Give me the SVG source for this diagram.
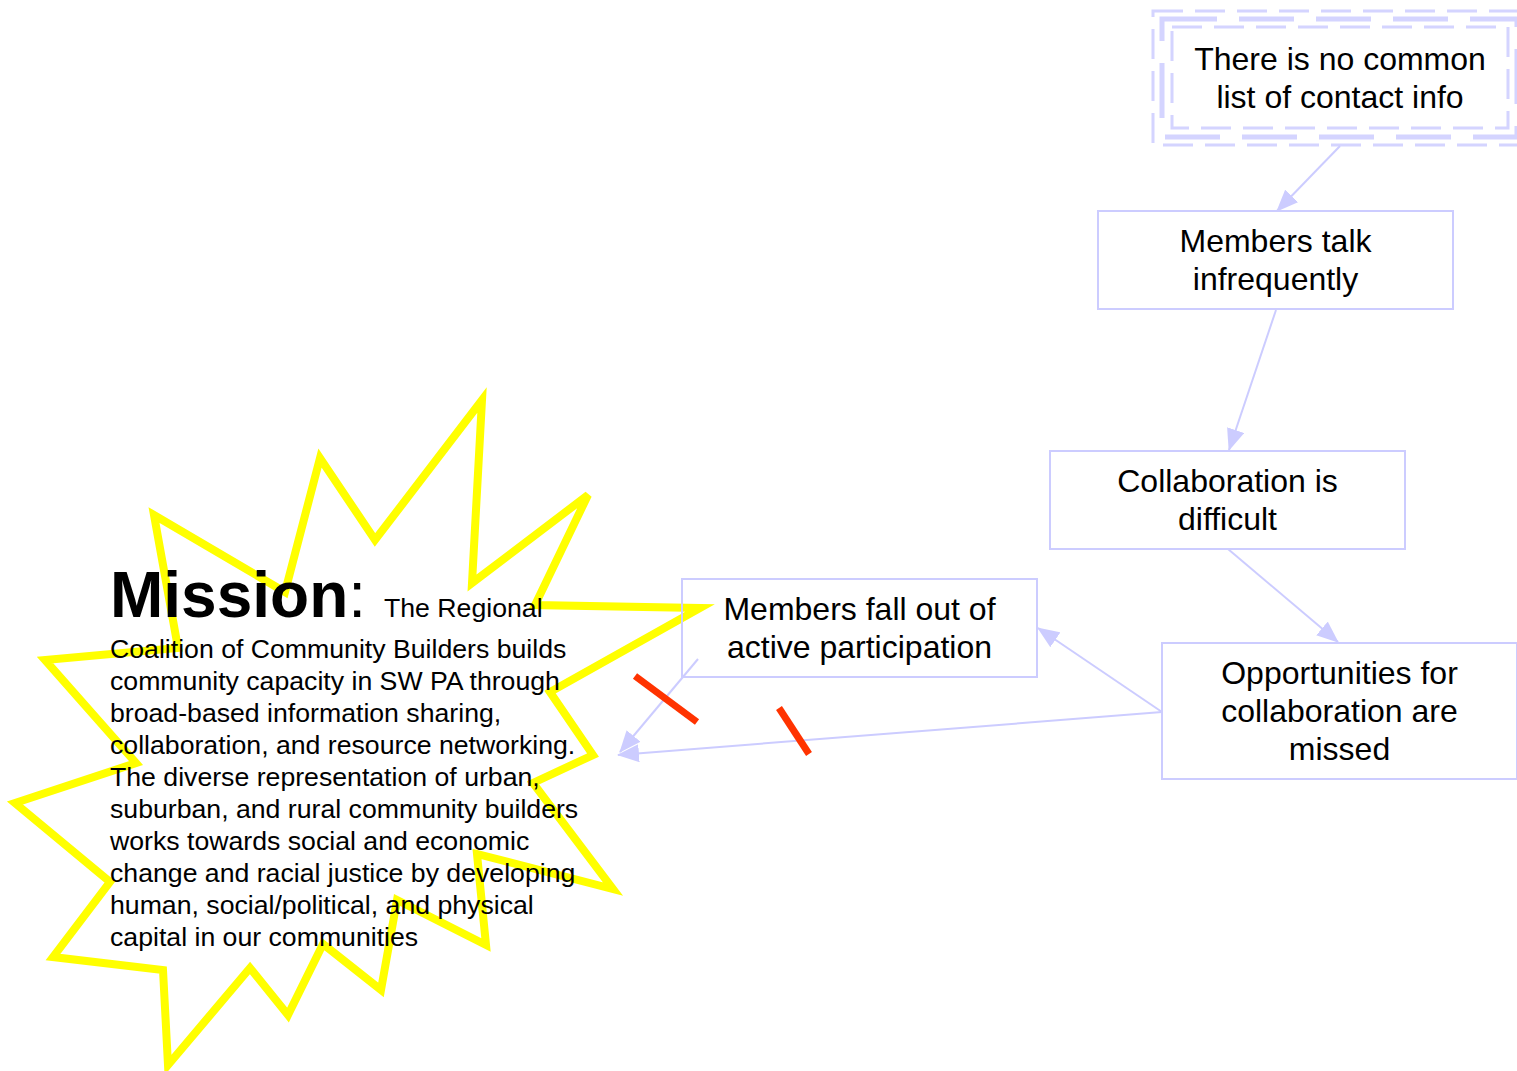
<svg xmlns="http://www.w3.org/2000/svg" width="1517" height="1071" viewBox="0 0 1517 1071">
  <style>
    .box { fill: none; stroke: #CCCCFF; stroke-width: 2; }
    .lbl { font-family: "Liberation Sans", Arial, sans-serif; font-size: 32px; fill: #000; text-anchor: middle; }
    .conn { stroke: #CCCCFF; stroke-width: 2; fill: none; marker-end: url(#head); }
    .body { font-family: "Liberation Sans", Arial, sans-serif; font-size: 26.67px; fill: #000; }
    .cut { stroke: #FF3300; stroke-width: 7; }
  </style>
  <defs>
    <marker id="head" markerUnits="userSpaceOnUse" markerWidth="22" markerHeight="18" refX="21" refY="9" orient="auto">
      <path d="M0,0 L22,9 L0,18 z" fill="#CCCCFF"/>
    </marker>
  </defs>

  <rect width="1517" height="1071" fill="#fff"/>

  <!-- mission burst -->
  <g id="mission">
    <polygon fill="none" stroke="#FFFF00" stroke-width="8" stroke-linejoin="miter"
      points="482,400 472,583 588,495 535,605 700,608 550,692 593,755 533,783 613,889 477,854 486,945 397,900 381,990 323,944 288,1015 250,968 168,1065 163,970 53,957 110,882 15,803 136,763 45,660 178,648 154,515 285,592 320,458 375,540"/>
    <text x="110" y="617" font-family="Liberation Sans, Arial, sans-serif" fill="#000"><tspan font-size="64" font-weight="bold">Mission</tspan><tspan font-size="64">:</tspan></text>
    <text class="body" x="384" y="617">The Regional</text>
    <text class="body">
      <tspan x="110" y="658">Coalition of Community Builders builds</tspan>
      <tspan x="110" y="690">community capacity in SW PA through</tspan>
      <tspan x="110" y="722">broad-based information sharing,</tspan>
      <tspan x="110" y="754">collaboration, and resource networking.</tspan>
      <tspan x="110" y="786">The diverse representation of urban,</tspan>
      <tspan x="110" y="818">suburban, and rural community builders</tspan>
      <tspan x="110" y="850">works towards social and economic</tspan>
      <tspan x="110" y="882">change and racial justice by developing</tspan>
      <tspan x="110" y="914">human, social/political, and physical</tspan>
      <tspan x="110" y="946">capital in our communities</tspan>
    </text>
  </g>

  <!-- root cause with triple dashed border -->
  <g id="no-contact-list">
    <rect x="1153" y="11" width="373" height="134" fill="none" stroke="#D4D4FF" stroke-width="3" stroke-dasharray="30 12"/>
    <rect x="1162" y="19" width="355" height="118" fill="none" stroke="#D4D4FF" stroke-width="5" stroke-dasharray="55 22"/>
    <rect x="1172" y="27" width="336" height="101" fill="none" stroke="#D4D4FF" stroke-width="3" stroke-dasharray="30 12"/>
    <text class="lbl"><tspan x="1340" y="70">There is no common</tspan><tspan x="1340" y="108">list of contact info</tspan></text>
  </g>

  <g id="talk-infrequently">
    <rect class="box" x="1098" y="211" width="355" height="98"/>
    <text class="lbl"><tspan x="1275.5" y="252">Members talk</tspan><tspan x="1275.5" y="290">infrequently</tspan></text>
  </g>

  <g id="collaboration-difficult">
    <rect class="box" x="1050" y="451" width="355" height="98"/>
    <text class="lbl"><tspan x="1227.5" y="492">Collaboration is</tspan><tspan x="1227.5" y="530">difficult</tspan></text>
  </g>

  <g id="opportunities-missed">
    <rect class="box" x="1162" y="643" width="355" height="136"/>
    <text class="lbl"><tspan x="1339.5" y="684">Opportunities for</tspan><tspan x="1339.5" y="722">collaboration are</tspan><tspan x="1339.5" y="760">missed</tspan></text>
  </g>

  <g id="fall-out">
    <rect class="box" x="682" y="579" width="355" height="98"/>
    <text class="lbl"><tspan x="859.5" y="620">Members fall out of</tspan><tspan x="859.5" y="658">active participation</tspan></text>
  </g>

  <g id="connectors">
    <line class="conn" x1="1340" y1="146" x2="1277" y2="211"/>
    <line class="conn" x1="1276" y1="310" x2="1229" y2="450"/>
    <line class="conn" x1="1228" y1="549" x2="1338" y2="642"/>
    <line class="conn" x1="1162" y1="712" x2="1038" y2="628"/>
    <line class="conn" x1="1162" y1="712" x2="618" y2="755"/>
    <line class="conn" x1="698" y1="659" x2="620" y2="752"/>
  </g>

  <!-- broken-link marks -->
  <g id="breaks">
    <line class="cut" x1="635" y1="676" x2="697" y2="722"/>
    <line class="cut" x1="779" y1="708" x2="809" y2="754"/>
  </g>
</svg>
